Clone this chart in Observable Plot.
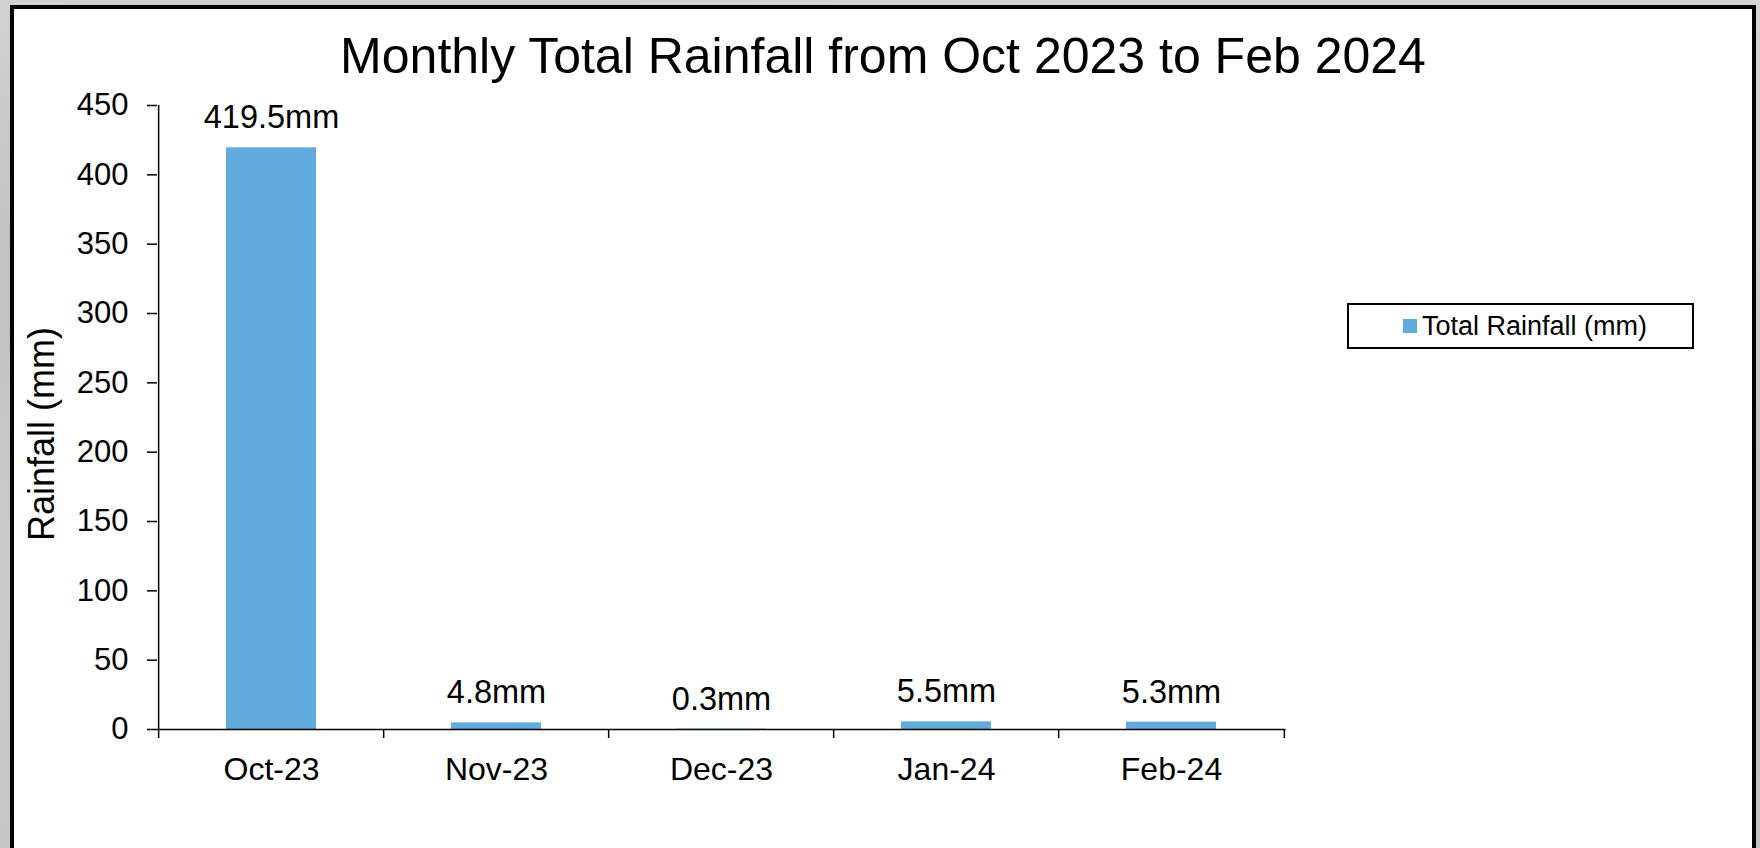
<!DOCTYPE html>
<html>
<head>
<meta charset="utf-8">
<script src="https://cdn.jsdelivr.net/npm/d3@7"></script>
<script src="https://cdn.jsdelivr.net/npm/@observablehq/plot@0.6"></script>
<style>
  html, body { margin: 0; padding: 0; width: 1760px; height: 848px; overflow: hidden; }
  body {
    font-family: "Liberation Sans", Arial, sans-serif;
    background:
      radial-gradient(ellipse at 20% 30%, rgba(150,150,150,0.35), rgba(150,150,150,0) 40%),
      radial-gradient(ellipse at 80% 70%, rgba(140,140,140,0.3), rgba(140,140,140,0) 45%),
      linear-gradient(180deg, #d4d4d4, #c6c6c6);
    position: relative;
  }
  #panel {
    position: absolute; left: 10px; top: 5px; width: 1738px; height: 900px;
    background: #fff; border: 4px solid #000; box-sizing: content-box;
  }
  #chart { position: absolute; left: 0; top: 0; }
  #title {
    position: absolute; left: 0; width: 1766px; top: 31px; text-align: center;
    font-size: 50px; line-height: 1; color: #000; white-space: nowrap;
  }
  #ytitle {
    position: absolute; left: -108px; top: 417px; width: 300px; height: 34px;
    text-align: center; font-size: 36px; line-height: 34px; color: #000;
    transform: rotate(-90deg); white-space: nowrap;
  }
  #legend {
    position: absolute; left: 1347px; top: 303px; width: 343px; height: 42px;
    border: 2px solid #000; background: #fff;
  }
  #legend .sw { position: absolute; left: 54px; top: 14px; width: 14px; height: 14px; }
  #legend .lb { position: absolute; left: 73px; top: 5px; font-size: 27px; line-height: 32px; color: #000; white-space: nowrap; }
</style>
</head>
<body>
<div id="panel"></div>
<div id="chart"></div>
<div id="title"></div>
<div id="ytitle"></div>
<div id="legend"><div class="sw"></div><div class="lb"></div></div>
<script>
const titleText = "Monthly Total Rainfall from Oct 2023 to Feb 2024";
const yTitle = "Rainfall (mm)";
const seriesName = "Total Rainfall (mm)";
const months = ["Oct-23", "Nov-23", "Dec-23", "Jan-24", "Feb-24"];
const rainfall = [419.5, 4.8, 0.3, 5.5, 5.3];
const yTicks = [0, 50, 100, 150, 200, 250, 300, 350, 400, 450];
const barColor = "#61acdd";

const data = months.map((m, i) => ({month: m, value: rainfall[i]}));

const W = 1760, H = 848;
const mL = 157, mR = 474.5, mT = 105, mB = 119;
const step = (W - mL - mR) / months.length;
const pxPerUnit = (H - mT - mB) / 450;
const tickLen = 9 / pxPerUnit;

document.getElementById("title").textContent = titleText;
document.getElementById("ytitle").textContent = yTitle;
document.querySelector("#legend .sw").style.background = barColor;
document.querySelector("#legend .lb").textContent = seriesName;

const chart = Plot.plot({
  width: W,
  height: H,
  marginLeft: mL,
  marginRight: mR,
  marginTop: mT,
  marginBottom: mB,
  style: {background: "transparent", fontFamily: "'Liberation Sans', Arial, sans-serif", color: "#000", overflow: "visible"},
  x: {domain: months, paddingInner: 0.6, paddingOuter: 0.3, label: null},
  y: {domain: [0, 450], label: null},
  marks: [
    Plot.barY(data, {x: "month", y: "value", fill: barColor}),
    Plot.ruleY([0], {stroke: "#000", strokeWidth: 1.5}),
    Plot.ruleX(months.slice(0, 1), {x: d => d, dx: -step / 2, y1: 0, y2: 450, stroke: "#000", strokeWidth: 1.5}),
    Plot.ruleX(months, {x: d => d, dx: -step / 2, y1: 0, y2: -tickLen, stroke: "#000", strokeWidth: 1.5}),
    Plot.ruleX(months.slice(-1), {x: d => d, dx: step / 2, y1: 0, y2: -tickLen, stroke: "#000", strokeWidth: 1.5}),
    Plot.axisY({ticks: yTicks, tickSize: 10, tickPadding: 19, fontSize: 31, tickFormat: d => String(d), stroke: "#000", strokeWidth: 1.5, label: null}),
    Plot.axisX({tickSize: 0, tickPadding: 28, fontSize: 32, label: null}),
    Plot.text(data, {x: "month", y: "value", text: d => d.value.toFixed(1) + "mm", fontSize: 32.5, dy: -19.5 - 0.32 * 32.5, fill: "#000"})
  ]
});
document.getElementById("chart").appendChild(chart);
</script>
</body>
</html>
